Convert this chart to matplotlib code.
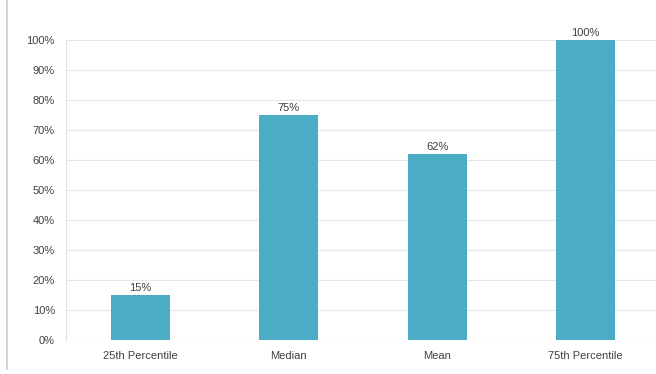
import matplotlib
matplotlib.use("Agg")
import matplotlib.pyplot as plt
from matplotlib.lines import Line2D

categories = ['25th Percentile', 'Median', 'Mean', '75th Percentile']
values = [15, 75, 62, 100]
yticks = [0, 10, 20, 30, 40, 50, 60, 70, 80, 90, 100]

plt.rcParams['font.family'] = ['Liberation Sans', 'DejaVu Sans']

fig = plt.figure(figsize=(6.56, 3.74), dpi=100)
ax = fig.add_axes([66/656, 34/374, 1 - 66/656 + 4/656, 300/374])

x = range(len(categories))
ax.bar(x, values, width=0.4, color='#4BACC6', zorder=3)
for i, v in zip(x, values):
    ax.text(i, v + 0.8, f'{v}%', ha='center', va='bottom', fontsize=8, color='#404040')

ax.set_xlim(-0.5, 3.5)
ax.set_ylim(0, 100)
ax.set_yticks(yticks)
ax.set_yticklabels([f'{t}%' for t in yticks], fontsize=8, color='#404040')
ax.set_xticks(list(x))
ax.set_xticklabels(categories, fontsize=8, color='#404040')
ax.tick_params(axis='y', length=0, pad=8)
ax.tick_params(axis='x', length=0, pad=8)
ax.grid(axis='y', color='#e6e6e6', linewidth=0.8, zorder=0)
for s in ['top', 'right', 'bottom']:
    ax.spines[s].set_visible(False)
ax.spines['left'].set_color('#e0e0e0')
ax.spines['left'].set_linewidth(0.8)

# faint frame line on the left edge of the picture
fig.add_artist(Line2D([6.5/656, 6.5/656], [1, 1 - 369/374], color='#cccccc', linewidth=1.2))

fig.savefig('out.png', dpi=100)
